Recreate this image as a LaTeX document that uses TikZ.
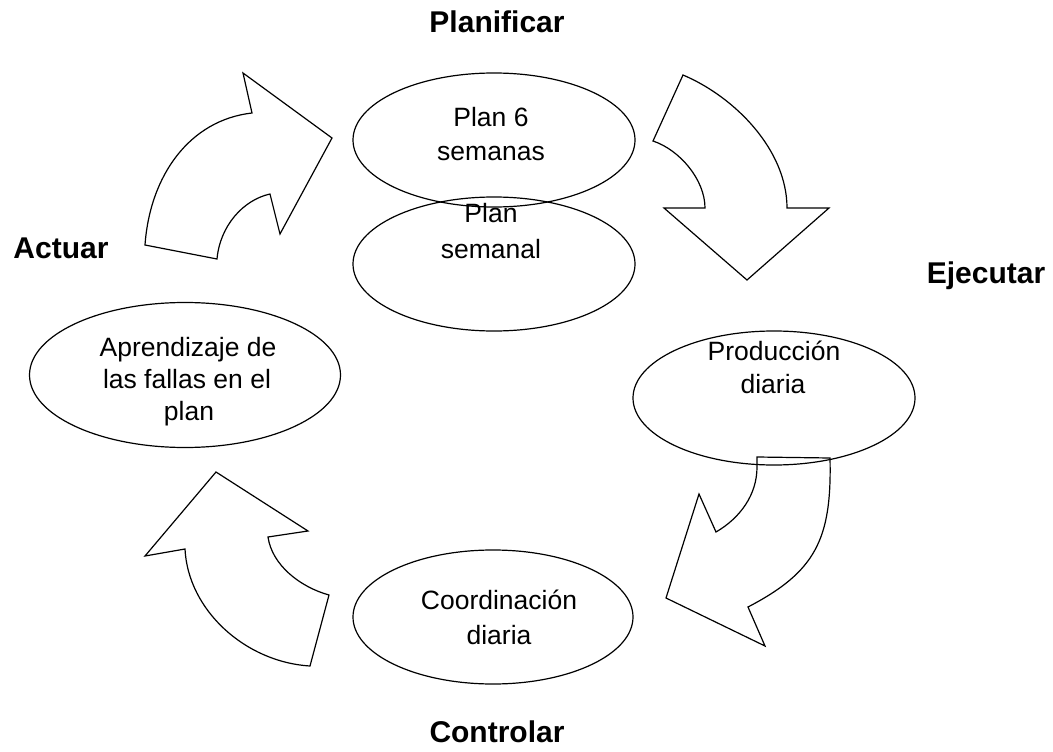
\documentclass[tikz,border=0pt]{standalone}
\usepackage{fontspec}
\setmainfont{Liberation Sans}
\usetikzlibrary{shapes.geometric}
\begin{document}
\begin{tikzpicture}[x=1pt,y=-1pt,
  oval/.style={draw, ellipse, line width=1.2pt, inner sep=0pt, minimum width=282pt, minimum height=134pt},
  txt/.style={anchor=base, inner sep=0pt, font=\fontsize{26.5}{32}\selectfont},
  phase/.style={anchor=base, inner sep=0pt, font=\fontsize{30}{36}\selectfont\bfseries},
  blockarrow/.style={draw, line width=1.2pt, line join=miter}]
\useasboundingbox (0,0) rectangle (1053,752);

% ellipses
\node[oval] (e1) at (494,140) {};
\node[oval] (e2) at (494,264) {};
\node[oval] (e3) at (774,398) {};
\node[oval, minimum width=280pt] (e4) at (493,617) {};
\node[oval, minimum width=311pt, minimum height=145pt] (e5) at (185,375) {};

% ellipse texts
\node[txt] (t1a) at (491,126) {Plan 6};
\node[txt] (t1b) at (491,160) {semanas};
\node[txt] (t2a) at (491,222) {Plan};
\node[txt] (t2b) at (491,258) {semanal};
\node[txt] (t3a) at (774,360) {Producción};
\node[txt] (t3b) at (773,393) {diaria};
\node[txt] (t4a) at (499,609) {Coordinación};
\node[txt] (t4b) at (499,644) {diaria};
\node[txt] (t5a) at (188,356) {Aprendizaje de};
\node[txt] (t5b) at (187,388) {las fallas en el};
\node[txt] (t5c) at (189,420) {plan};

% phase labels
\node[phase] (planificar) at (497,33) {Planificar};
\node[phase] (actuar) at (61,258) {Actuar};
\node[phase] (ejecutar) at (986,283) {Ejecutar};
\node[phase] (controlar) at (497,742) {Controlar};

% curved block arrows
% Actuar -> Planificar
\draw[blockarrow] (145,245) .. controls (150,175) and (190,120) .. (252,113)
  -- (243,73) -- (332,138) -- (280,234) -- (270,194)
  .. controls (243,200) and (220,226) .. (217,259) -- cycle;
% Planificar -> Ejecutar
\draw[blockarrow] (683,75) .. controls (735,97) and (787,150) .. (787,208)
  -- (829,208) -- (747,280) -- (664,208) -- (705,208)
  .. controls (705,180) and (680,150) .. (653,141) -- cycle;
% Ejecutar -> Controlar
\draw[blockarrow] (757,457) -- (830,458) .. controls (832,540) and (815,572) .. (748,607)
  -- (765,646) -- (666,598) -- (699,494) -- (716,532)
  .. controls (740,518) and (757,495) .. (757,467) -- cycle;
% Controlar -> Actuar
\draw[blockarrow] (216,472) -- (145,556) -- (185,549)
  .. controls (188,610) and (245,662) .. (310,666)
  -- (329,595) .. controls (300,587) and (272,565) .. (268,537)
  -- (308,531) -- cycle;
\end{tikzpicture}
\end{document}
